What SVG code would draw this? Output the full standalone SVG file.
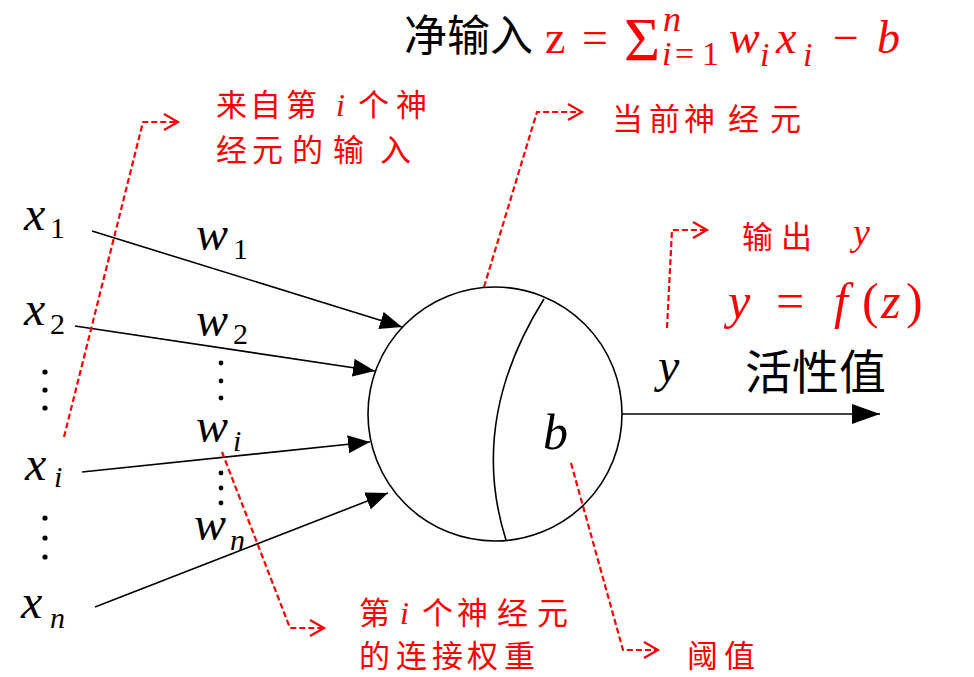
<svg xmlns="http://www.w3.org/2000/svg" width="974" height="677" viewBox="0 0 974 677">
<defs>
<style>
.edge{stroke:#000;stroke-width:1.6;fill:none}
.dash{stroke:#f00;stroke-width:2.2;fill:none;stroke-dasharray:6,3}
text.lat{font-family:'Liberation Serif',serif !important}
text.cj{font-family:'Noto Sans CJK SC',sans-serif !important}
</style>
<marker id="ah" markerUnits="userSpaceOnUse" markerWidth="24" markerHeight="18" refX="22" refY="9" orient="auto">
<path d="M0,0 L22,9 L0,18 z" fill="#000"/>
</marker>
<marker id="ahb" markerUnits="userSpaceOnUse" markerWidth="30" markerHeight="20" refX="28" refY="10" orient="auto">
<path d="M0,0 L28,10 L0,20 z" fill="#000"/>
</marker>
<marker id="ch" markerUnits="userSpaceOnUse" markerWidth="18" markerHeight="20" refX="15" refY="9" orient="auto">
<path d="M1,1 L15,9 L1,17" fill="none" stroke="#f00" stroke-width="2.2"/>
</marker>
</defs>

<g id="connectors">
<line class="edge" x1="92" y1="231" x2="402" y2="327" marker-end="url(#ah)"/>
<line class="edge" x1="75" y1="326" x2="375" y2="371" marker-end="url(#ah)"/>
<line class="edge" x1="82" y1="472" x2="370" y2="442" marker-end="url(#ah)"/>
<line class="edge" x1="95" y1="607" x2="388" y2="493" marker-end="url(#ah)"/>
<line class="edge" x1="622" y1="414" x2="880" y2="414" marker-end="url(#ahb)"/>
<polyline class="dash" points="64,437 143,122 178,122" marker-end="url(#ch)"/>
<polyline class="dash" points="484,287 537,112 582,112" marker-end="url(#ch)"/>
<polyline class="dash" points="667,328 672,230 707,230" marker-end="url(#ch)"/>
<polyline class="dash" points="222,452 290,628 324,628" marker-end="url(#ch)"/>
<polyline class="dash" points="571,463 623,650 658,650" marker-end="url(#ch)"/>
</g>

<g id="neuron">
<circle cx="495" cy="414" r="127" fill="none" stroke="#000" stroke-width="1.6"/>
<path d="M544,299 Q468,420 506,540" fill="none" stroke="#000" stroke-width="1.6"/>
<text class="lat" style="font-family:'Liberation Serif',serif !important" font-family="Liberation Serif" font-style="italic" fill="#000" x="543" y="449" font-size="50">b</text>
</g>

<g id="inputs" fill="#000">
<text class="lat" style="font-family:'Liberation Serif',serif !important" font-family="Liberation Serif" font-style="italic" font-size="48" x="24" y="230">x</text>
<text class="lat" style="font-family:'Liberation Serif',serif !important" font-family="Liberation Serif" font-size="30" x="50" y="238">1</text>
<text class="lat" style="font-family:'Liberation Serif',serif !important" font-family="Liberation Serif" font-style="italic" font-size="48" x="24" y="325">x</text>
<text class="lat" style="font-family:'Liberation Serif',serif !important" font-family="Liberation Serif" font-size="30" x="50" y="334">2</text>
<text class="lat" style="font-family:'Liberation Serif',serif !important" font-family="Liberation Serif" font-style="italic" font-size="48" x="25" y="480">x</text>
<text class="lat" style="font-family:'Liberation Serif',serif !important" font-family="Liberation Serif" font-style="italic" font-size="30" x="54" y="487">i</text>
<text class="lat" style="font-family:'Liberation Serif',serif !important" font-family="Liberation Serif" font-style="italic" font-size="48" x="21" y="618">x</text>
<text class="lat" style="font-family:'Liberation Serif',serif !important" font-family="Liberation Serif" font-style="italic" font-size="30" x="50" y="628">n</text>
<circle cx="45" cy="372" r="2.6"/><circle cx="45" cy="390" r="2.6"/><circle cx="45" cy="408" r="2.6"/>
<circle cx="45" cy="518" r="2.6"/><circle cx="45" cy="538" r="2.6"/><circle cx="45" cy="557" r="2.6"/>
</g>

<g id="weights" fill="#000">
<text class="lat" style="font-family:'Liberation Serif',serif !important" font-family="Liberation Serif" font-style="italic" font-size="48" x="196" y="250">w</text>
<text class="lat" style="font-family:'Liberation Serif',serif !important" font-family="Liberation Serif" font-size="30" x="233" y="259">1</text>
<text class="lat" style="font-family:'Liberation Serif',serif !important" font-family="Liberation Serif" font-style="italic" font-size="48" x="196" y="336">w</text>
<text class="lat" style="font-family:'Liberation Serif',serif !important" font-family="Liberation Serif" font-size="30" x="233" y="344">2</text>
<text class="lat" style="font-family:'Liberation Serif',serif !important" font-family="Liberation Serif" font-style="italic" font-size="48" x="196" y="442">w</text>
<text class="lat" style="font-family:'Liberation Serif',serif !important" font-family="Liberation Serif" font-style="italic" font-size="30" x="233" y="451">i</text>
<text class="lat" style="font-family:'Liberation Serif',serif !important" font-family="Liberation Serif" font-style="italic" font-size="48" x="194" y="540">w</text>
<text class="lat" style="font-family:'Liberation Serif',serif !important" font-family="Liberation Serif" font-style="italic" font-size="30" x="230" y="550">n</text>
<circle cx="221" cy="363" r="2.4"/><circle cx="221" cy="381" r="2.4"/><circle cx="221" cy="398" r="2.4"/>
<circle cx="221" cy="473" r="2.4"/><circle cx="221" cy="488" r="2.4"/><circle cx="221" cy="503" r="2.4"/>
</g>

<g id="output">
<text class="lat" style="font-family:'Liberation Serif',serif !important" font-family="Liberation Serif" font-style="italic" fill="#000" font-size="48" x="658" y="382">y</text>
<text class="cj" style="font-family:'Noto Sans CJK SC',sans-serif" font-family="Noto Sans CJK SC" fill="#000" font-size="47" x="745" y="389">活性值</text>
<text class="lat" style="font-family:'Liberation Serif',serif !important" font-family="Liberation Serif" font-style="italic" fill="#f00" font-size="50" x="728" y="318">y</text>
<text class="lat" style="font-family:'Liberation Serif',serif !important" font-family="Liberation Serif" fill="#f00" font-size="50" x="776" y="318">=</text>
<text class="lat" style="font-family:'Liberation Serif',serif !important" font-family="Liberation Serif" font-style="italic" fill="#f00" font-size="50" x="834" y="318">f</text>
<text class="lat" style="font-family:'Liberation Serif',serif !important" font-family="Liberation Serif" fill="#f00" font-size="50" x="862" y="318">(</text>
<text class="lat" style="font-family:'Liberation Serif',serif !important" font-family="Liberation Serif" font-style="italic" fill="#f00" font-size="50" x="881" y="318">z</text>
<text class="lat" style="font-family:'Liberation Serif',serif !important" font-family="Liberation Serif" fill="#f00" font-size="50" x="906" y="318">)</text>
<text class="cj" style="font-family:'Noto Sans CJK SC',sans-serif" font-family="Noto Sans CJK SC" fill="#f00" font-size="31" x="742 781" y="248">输出</text>
<text class="lat" style="font-family:'Liberation Serif',serif !important" font-family="Liberation Serif" font-style="italic" fill="#f00" font-size="38" x="853" y="245">y</text>
</g>

<g id="net-input">
<text class="cj" style="font-family:'Noto Sans CJK SC',sans-serif" font-family="Noto Sans CJK SC" fill="#000" font-size="43" x="404" y="51">净输入</text>
<g fill="#f00">
<text class="lat" style="font-family:'Liberation Serif',serif !important" font-family="Liberation Serif" font-size="46" x="545" y="53">z</text>
<text class="lat" style="font-family:'Liberation Serif',serif !important" font-family="Liberation Serif" font-size="46" x="582" y="53">=</text>
<text class="lat" style="font-family:'Liberation Serif',serif !important" font-family="Liberation Serif" font-size="62" x="624" y="60">Σ</text>
<text class="lat" style="font-family:'Liberation Serif',serif !important" font-family="Liberation Serif" font-style="italic" font-size="36" x="663" y="31">n</text>
<text class="lat" style="font-family:'Liberation Serif',serif !important" font-family="Liberation Serif" font-style="italic" font-size="34" x="662" y="65">i</text>
<text class="lat" style="font-family:'Liberation Serif',serif !important" font-family="Liberation Serif" font-size="34" x="675 702" y="65">=1</text>
<text class="lat" style="font-family:'Liberation Serif',serif !important" font-family="Liberation Serif" font-style="italic" font-size="46" x="729" y="53">w</text>
<text class="lat" style="font-family:'Liberation Serif',serif !important" font-family="Liberation Serif" font-style="italic" font-size="34" x="760" y="66">i</text>
<text class="lat" style="font-family:'Liberation Serif',serif !important" font-family="Liberation Serif" font-style="italic" font-size="46" x="776" y="53">x</text>
<text class="lat" style="font-family:'Liberation Serif',serif !important" font-family="Liberation Serif" font-style="italic" font-size="34" x="803" y="66">i</text>
<text class="lat" style="font-family:'Liberation Serif',serif !important" font-family="Liberation Serif" font-size="46" x="833" y="53">−</text>
<text class="lat" style="font-family:'Liberation Serif',serif !important" font-family="Liberation Serif" font-style="italic" font-size="46" x="877" y="53">b</text>
</g>
</g>

<g id="annotations" fill="#f00">
<text class="cj" style="font-family:'Noto Sans CJK SC',sans-serif" font-family="Noto Sans CJK SC" font-size="31" x="216 250 286" y="116">来自第</text>
<text class="lat" style="font-family:'Liberation Serif',serif !important" font-family="Liberation Serif" font-style="italic" font-size="32" x="336" y="116">i</text>
<text class="cj" style="font-family:'Noto Sans CJK SC',sans-serif" font-family="Noto Sans CJK SC" font-size="31" x="358 396" y="116">个神</text>
<text class="cj" style="font-family:'Noto Sans CJK SC',sans-serif" font-family="Noto Sans CJK SC" font-size="31" x="216 252 292 333 380" y="161">经元的输入</text>
<text class="cj" style="font-family:'Noto Sans CJK SC',sans-serif" font-family="Noto Sans CJK SC" font-size="31" x="612 649 684 728 770" y="130">当前神经元</text>
<text class="cj" style="font-family:'Noto Sans CJK SC',sans-serif" font-family="Noto Sans CJK SC" font-size="31" x="359" y="624">第</text>
<text class="lat" style="font-family:'Liberation Serif',serif !important" font-family="Liberation Serif" font-style="italic" font-size="32" x="400" y="624">i</text>
<text class="cj" style="font-family:'Noto Sans CJK SC',sans-serif" font-family="Noto Sans CJK SC" font-size="31" x="422 457 497 537" y="624">个神经元</text>
<text class="cj" style="font-family:'Noto Sans CJK SC',sans-serif" font-family="Noto Sans CJK SC" font-size="31" x="359 396 432 467 504" y="667">的连接权重</text>
<text class="cj" style="font-family:'Noto Sans CJK SC',sans-serif" font-family="Noto Sans CJK SC" font-size="31" x="687 724" y="667">阈值</text>
</g>
</svg>
